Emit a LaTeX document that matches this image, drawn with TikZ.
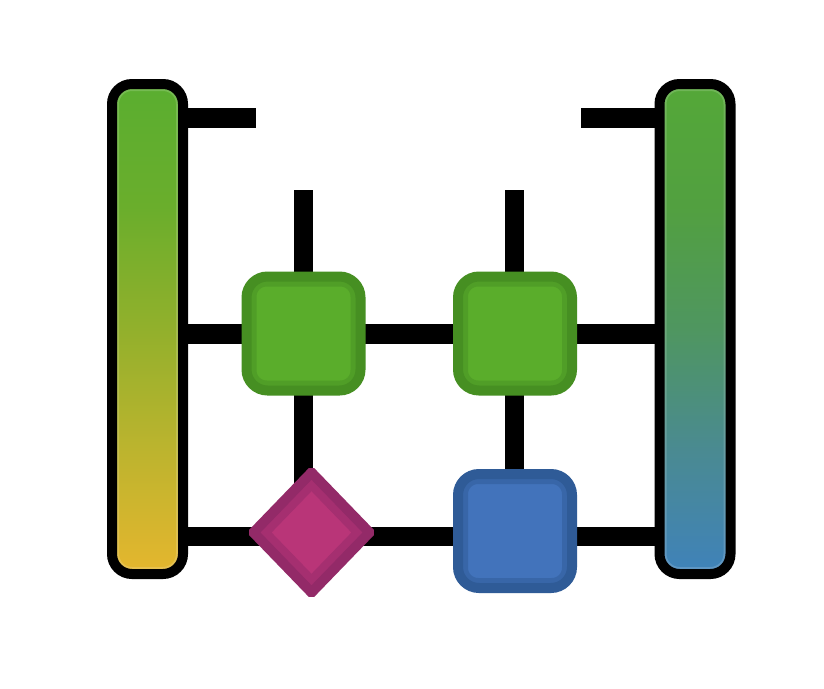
\documentclass[tikz,border=0pt]{standalone}
\usetikzlibrary{shapes.geometric,backgrounds}
\definecolor{gA}{HTML}{5AAE30}\definecolor{gB}{HTML}{6AAE2C}\definecolor{gC}{HTML}{92B02C}\definecolor{gD}{HTML}{BDB42E}\definecolor{gE}{HTML}{E5B62E}
\definecolor{hA}{HTML}{54A838}\definecolor{hB}{HTML}{52A040}\definecolor{hC}{HTML}{4F9660}\definecolor{hD}{HTML}{4A8A92}\definecolor{hE}{HTML}{3F82BA}
\pgfdeclareverticalshading{leftbarshade}{100bp}{color(0bp)=(gE);color(25bp)=(gE);color(37.5bp)=(gD);color(50bp)=(gC);color(62.5bp)=(gB);color(75bp)=(gA);color(100bp)=(gA)}
\pgfdeclareverticalshading{rightbarshade}{100bp}{color(0bp)=(hE);color(25bp)=(hE);color(37.5bp)=(hD);color(50bp)=(hC);color(62.5bp)=(hB);color(75bp)=(hA);color(100bp)=(hA)}
\definecolor{greenEdge}{HTML}{468F22}\definecolor{greenMid}{HTML}{509E27}\definecolor{greenFill}{HTML}{5AAD2B}
\definecolor{blueEdge}{HTML}{2F5B97}\definecolor{blueMid}{HTML}{3866A8}\definecolor{blueFill}{HTML}{4273BB}
\definecolor{pinkEdge}{HTML}{932A68}\definecolor{pinkMid}{HTML}{A52F70}\definecolor{pinkFill}{HTML}{B93578}
\tikzset{
  x=1pt,y=-1pt,
  wire/.style={draw=black,line width=19.5pt,line cap=butt},
  barnode/.style={rectangle,draw=black,line width=10pt,rounded corners=20pt,minimum width=71pt,minimum height=490pt,inner sep=0pt,outer sep=0pt,
    path picture={\draw[white,opacity=.16,line width=14pt,rounded corners=20pt] (path picture bounding box.south west) rectangle (path picture bounding box.north east);}},
  blockring/.style={path picture={\draw[#1,line width=20pt,rounded corners=20pt] (path picture bounding box.south west) rectangle (path picture bounding box.north east);}},
  blocknode/.style={rectangle,line width=10pt,rounded corners=21pt,minimum size=114pt,inner sep=0pt,outer sep=0pt},
  greenblock/.style={blocknode,draw=greenEdge,fill=greenFill,blockring=greenMid},
  blueblock/.style={blocknode,draw=blueEdge,fill=blueFill,blockring=blueMid},
  pinkdiamond/.style={diamond,draw=pinkEdge,fill=pinkFill,line width=10pt,rounded corners=1pt,minimum width=116pt,minimum height=120pt,aspect=1,inner sep=0pt,outer sep=0pt,
    path picture={\draw[pinkMid,line width=26pt] (path picture bounding box.north) -- (path picture bounding box.east) -- (path picture bounding box.south) -- (path picture bounding box.west) -- cycle;}},
}
\begin{document}
\begin{tikzpicture}
\useasboundingbox (0,0) rectangle (824,688);
\node[barnode,shading=leftbarshade] (barL) at (147.5,329) {};
\node[barnode,shading=rightbarshade] (barR) at (695,329) {};
\node[greenblock] (boxA) at (303.5,333.5) {};
\node[greenblock] (boxB) at (515,333.5) {};
\node[blueblock] (boxC) at (515,531) {};
\node[pinkdiamond] (dia) at (311.5,532.5) {};
\coordinate (stubL) at (256,118);
\coordinate (stubR) at (581,118);
\coordinate (topA) at (303.5,190);
\coordinate (topB) at (514.5,190);
\coordinate (low) at (400,536.5);
\coordinate (mid) at (400,334);
\begin{scope}[on background layer]
\fill[white] (0,0) rectangle (824,688);
\draw[wire] (stubL -| barL.east) -- (stubL);
\draw[wire] (stubR -| barR.west) -- (stubR);
\draw[wire] (topA) -- (boxA);
\draw[wire] (topB) -- (topB |- boxB.center);
\draw[wire] (barL.east |- mid) -- (boxA.center |- mid);
\draw[wire] (boxA.center |- mid) -- (boxB.center |- mid);
\draw[wire] (boxB.center |- mid) -- (barR.west |- mid);
\draw[wire] (boxA.center) -- (boxA.center |- dia.center);
\draw[wire] (topB |- boxB.center) -- (topB |- boxC.center);
\draw[wire] (barL.east |- low) -- (dia.center |- low);
\draw[wire] (dia.center |- low) -- (boxC.center |- low);
\draw[wire] (boxC.center |- low) -- (barR.west |- low);
\end{scope}
\end{tikzpicture}
\end{document}
